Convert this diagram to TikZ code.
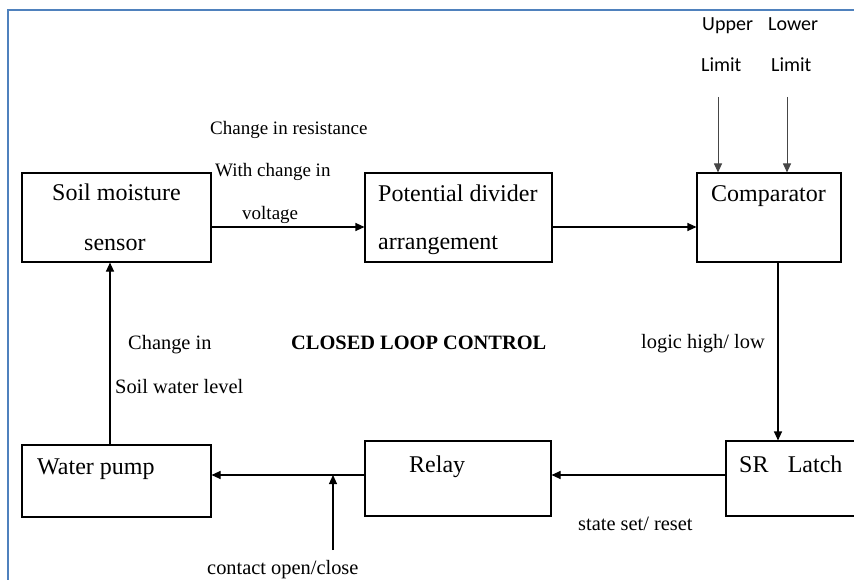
\documentclass[tikz,border=0pt]{standalone}
\usepackage{fontspec}
\setmainfont{Liberation Serif}
\newfontfamily\calib{Carlito}
\usetikzlibrary{arrows.meta,calc}
\definecolor{framecol}{RGB}{79,129,189}
\definecolor{limgray}{RGB}{70,70,70}
\tikzset{
  blk/.style={draw=black, line width=1.1pt, inner sep=0pt, fill=none},
  arr/.style={line width=1.1pt, -{Triangle[length=9pt,width=8pt]}},
  limarr/.style={draw=limgray, line width=1pt, -{Triangle[length=9pt,width=8pt]}, limgray},
  bigtxt/.style={anchor=base west, inner sep=0pt, font=\fontsize{24}{28}\selectfont},
  smtxt/.style={anchor=base west, inner sep=0pt, font=\fontsize{19}{22}\selectfont},
  mdtxt/.style={anchor=base west, inner sep=0pt, font=\fontsize{20.4}{24}\selectfont},
  sanstxt/.style={anchor=base west, inner sep=0pt, font=\calib\fontsize{20}{24}\selectfont},
}
\begin{document}
\begin{tikzpicture}[x=1pt,y=-1pt]
\useasboundingbox (0,0) rectangle (854,580);
% frame
\draw[framecol, line width=1.6pt] (8,582) -- (8,10) -- (856,10);
% boxes
\node[blk, minimum width=189pt, minimum height=89pt] (sensor) at (116.5,217.5) {};
\node[blk, minimum width=187pt, minimum height=89pt] (divider) at (458.5,217.5) {};
\node[blk, minimum width=144pt, minimum height=89pt] (comp) at (769,217.5) {};
\node[blk, minimum width=189pt, minimum height=72pt] (pump) at (116.5,481) {};
\node[blk, minimum width=186pt, minimum height=75pt] (relay) at (458,478.5) {};
\node[blk, minimum width=134pt, minimum height=75pt] (latch) at (793,478.5) {};
% box texts
\node[bigtxt] (t1) at (52,201) {Soil moisture};
\node[bigtxt] (t2) at (84,251) {sensor};
\node[bigtxt] (t3) at (378,202) {Potential divider};
\node[bigtxt] (t4) at (378,250) {arrangement};
\node[bigtxt] (t5) at (711,202) {Comparator};
\node[bigtxt] (t6) at (37,474) {Water pump};
\node[bigtxt] (t7) at (409,472) {Relay};
\node[bigtxt] (t8) at (739,472) {SR\hspace{0.8em}Latch};
% labels
\node[smtxt] (l1) at (210,135) {Change in resistance};
\node[smtxt] (l2) at (215,177) {With change in};
\node[smtxt] (l3) at (242,219) {voltage};
\node[sanstxt] (u1) at (702,31) {Upper};
\node[sanstxt] (u2) at (768,31) {Lower};
\node[sanstxt] (u3) at (701,72) {Limit};
\node[sanstxt] (u4) at (771,72) {Limit};
\node[anchor=base west, inner sep=0pt, font=\bfseries\fontsize{20.4}{24}\selectfont] (clc) at (291,349) {CLOSED LOOP CONTROL};
\node[mdtxt] (l4) at (128,349) {Change in};
\node[mdtxt] (l5) at (115,393) {Soil water level};
\node[mdtxt] (l6) at (641,348) {logic high/ low};
\node[mdtxt] (l7) at (578,530) {state set/ reset};
\node[mdtxt] (l8) at (207,574) {contact open/close};
% connectors
\draw[arr] ($(sensor.east)+(0,9.5)$) -- ($(divider.west)+(0,9.5)$);
\draw[arr] ($(divider.east)+(0,9.5)$) -- ($(comp.west)+(0,9.5)$);
\coordinate (up) at (718,97);
\coordinate (lo) at (787,97);
\draw[limarr] (up) -- (up |- comp.north);
\draw[limarr] (lo) -- (lo |- comp.north);
\draw[arr] ($(comp.south)+(9,0)$) -- ($(latch.north)+(-15,0)$);
\draw[arr] ($(latch.west)+(0,-3.5)$) -- ($(relay.east)+(0,-3.5)$);
\draw[arr] ($(relay.west)+(0,-3.5)$) -- ($(pump.east)+(0,-6)$);
\coordinate (cc) at (333,550);
\coordinate (cj) at (333,475);
\draw[arr] (cc) -- (cj);
\draw[arr] ($(pump.north)+(-6.5,0)$) -- ($(sensor.south)+(-6.5,0)$);
\end{tikzpicture}
\end{document}
